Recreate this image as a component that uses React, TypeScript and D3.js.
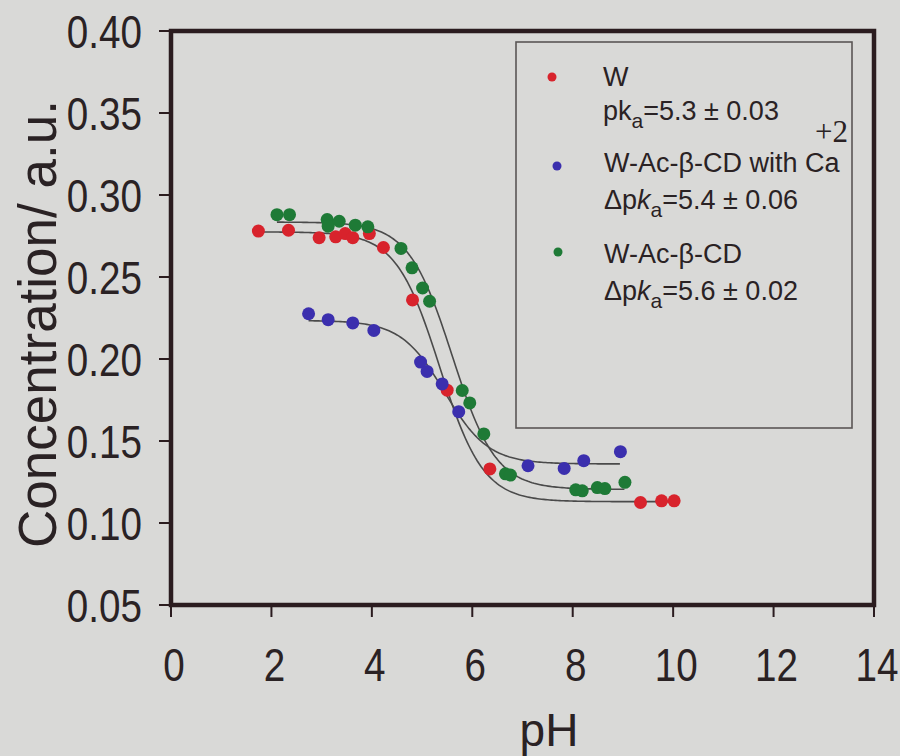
import React from "react";
import * as d3 from "d3";

// ---- data ----
const wPH = [1.74, 2.34, 2.95, 3.28, 3.47, 3.62, 3.95, 4.23, 4.81, 5.5, 6.35, 9.35, 9.77, 10.02];
const wConc = [0.278, 0.2785, 0.274, 0.2745, 0.2765, 0.274, 0.2765, 0.268, 0.236, 0.181, 0.133, 0.1125, 0.1135, 0.1135];

const caPH = [2.74, 3.13, 3.62, 4.04, 4.97, 5.1, 5.4, 5.73, 7.11, 7.83, 8.22, 8.95];
const caConc = [0.2276, 0.224, 0.222, 0.2174, 0.1981, 0.1924, 0.1848, 0.1679, 0.1349, 0.1333, 0.138, 0.1435];

const cdPH = [2.11, 2.36, 3.11, 3.13, 3.35, 3.67, 3.92, 4.58, 4.8, 5.01, 5.15, 5.8, 5.95, 6.23, 6.66, 6.76, 8.06, 8.19, 8.49, 8.64, 9.04];
const cdConc = [0.288, 0.288, 0.285, 0.281, 0.284, 0.2816, 0.2806, 0.2674, 0.2556, 0.2433, 0.2352, 0.1808, 0.1732, 0.1543, 0.13, 0.1292, 0.1202, 0.1196, 0.1216, 0.121, 0.1248];

// fitted sigmoid parameters: [upper plateau, lower plateau, pKa]
const wFit = [0.2775, 0.113, 5.35];
const caFit = [0.2235, 0.136, 5.45];
const cdFit = [0.2835, 0.1205, 5.6];

const xTicks = [0, 2, 4, 6, 8, 10, 12, 14];
const yTicks = [0.05, 0.1, 0.15, 0.2, 0.25, 0.3, 0.35, 0.4];

const seriesColors = ["#d8232c", "#3b2fae", "#1e7a36"];

export default function App() {
  const W = 900;
  const H = 756;
  const left = 171, right = 874, top = 31, bottom = 605;
  const x = d3.scaleLinear().domain([0, 14]).range([left, right]);
  const y = d3.scaleLinear().domain([0.05, 0.4]).range([bottom, top]);

  const series = [
    { ph: wPH, c: wConc, fit: wFit, color: seriesColors[0] },
    { ph: caPH, c: caConc, fit: caFit, color: seriesColors[1] },
    { ph: cdPH, c: cdConc, fit: cdFit, color: seriesColors[2] },
  ];

  const line = d3
    .line<[number, number]>()
    .x((d) => x(d[0]))
    .y((d) => y(d[1]))
    .curve(d3.curveLinear);

  const sig = (p: number, f: number[]) => f[1] + (f[0] - f[1]) / (1 + Math.pow(10, p - f[2]));

  const fontFam = "'Liberation Sans', Arial, sans-serif";
  const ink = "#2a2224";
  const frame = "#2b1c1f";
  const tickFont = 46;
  const squeeze = 0.84;

  const sub = (s: string) => (
    <tspan fontSize={21} dy={8}>
      {s}
    </tspan>
  );

  return (
    <svg
      width={W}
      height={H}
      style={{ position: "absolute", left: 0, top: 0, display: "block" }}
      fontFamily={fontFam}
    >
      <rect x={0} y={0} width={W} height={H} fill="#d9d9d7" />

      {/* fitted curves */}
      {series.map((s, i) => {
        const lo = d3.min(s.ph) as number;
        const hi = d3.max(s.ph) as number;
        const pts: [number, number][] = d3.range(lo, hi + 0.001, 0.04).map((p) => [p, sig(p, s.fit)]);
        return <path key={"f" + i} d={line(pts) || ""} fill="none" stroke="#4a4a4a" strokeWidth={1.6} />;
      })}

      {/* data points */}
      {series.map((s, i) =>
        s.ph.map((p, j) => (
          <circle key={"p" + i + "-" + j} cx={x(p)} cy={y(s.c[j])} r={6.5} fill={s.color} />
        ))
      )}

      {/* frame */}
      <rect x={left} y={top} width={right - left} height={bottom - top} fill="none" stroke={frame} strokeWidth={4.5} />

      {/* y ticks */}
      {yTicks.map((t) => (
        <g key={"y" + t}>
          <line x1={left - 12} x2={left} y1={y(t)} y2={y(t)} stroke={frame} strokeWidth={2} />
          <text
            transform={`translate(142,${y(t)}) scale(${squeeze},1)`}
            dy="0.36em"
            textAnchor="end"
            fontSize={tickFont}
            fill={ink}
          >
            {t.toFixed(2)}
          </text>
        </g>
      ))}

      {/* x ticks */}
      {xTicks.map((t) => (
        <g key={"x" + t}>
          <line x1={x(t)} x2={x(t)} y1={bottom} y2={bottom + 12} stroke={frame} strokeWidth={2} />
          <text
            transform={`translate(${x(t) + 3},681) scale(${squeeze},1)`}
            textAnchor="middle"
            fontSize={tickFont}
            fill={ink}
          >
            {t}
          </text>
        </g>
      ))}

      {/* axis titles */}
      <text x={549} y={746} textAnchor="middle" fontSize={46} fill={ink}>
        pH
      </text>
      <text transform="translate(56,324) rotate(-90)" textAnchor="middle" fontSize={53} fill={ink}>
        Concentration/ a.u.
      </text>

      {/* legend */}
      <rect x={516} y={42} width={336} height={386} fill="none" stroke="#5a5656" strokeWidth={1.6} />
      <circle cx={552} cy={77} r={4.5} fill={seriesColors[0]} />
      <circle cx={557} cy={166} r={4.5} fill={seriesColors[1]} />
      <circle cx={558} cy={252} r={4.5} fill={seriesColors[2]} />
      <g fontSize={27} fill={ink}>
        <text x={603} y={86}>W</text>
        <text x={603} y={120}>
          pk{sub("a")}
          <tspan dy={-8}>=5.3 ± 0.03</tspan>
        </text>
        <text x={815} y={142} fontSize={31} fontFamily="'Liberation Serif', 'Times New Roman', serif">
          +2
        </text>
        <text x={604} y={172}>W-Ac-β-CD with Ca</text>
        <text x={604} y={209}>
          Δp<tspan fontStyle="italic">k</tspan>
          {sub("a")}
          <tspan dy={-8}>=5.4 ± 0.06</tspan>
        </text>
        <text x={604} y={263}>W-Ac-β-CD</text>
        <text x={604} y={300}>
          Δp<tspan fontStyle="italic">k</tspan>
          {sub("a")}
          <tspan dy={-8}>=5.6 ± 0.02</tspan>
        </text>
      </g>
    </svg>
  );
}
